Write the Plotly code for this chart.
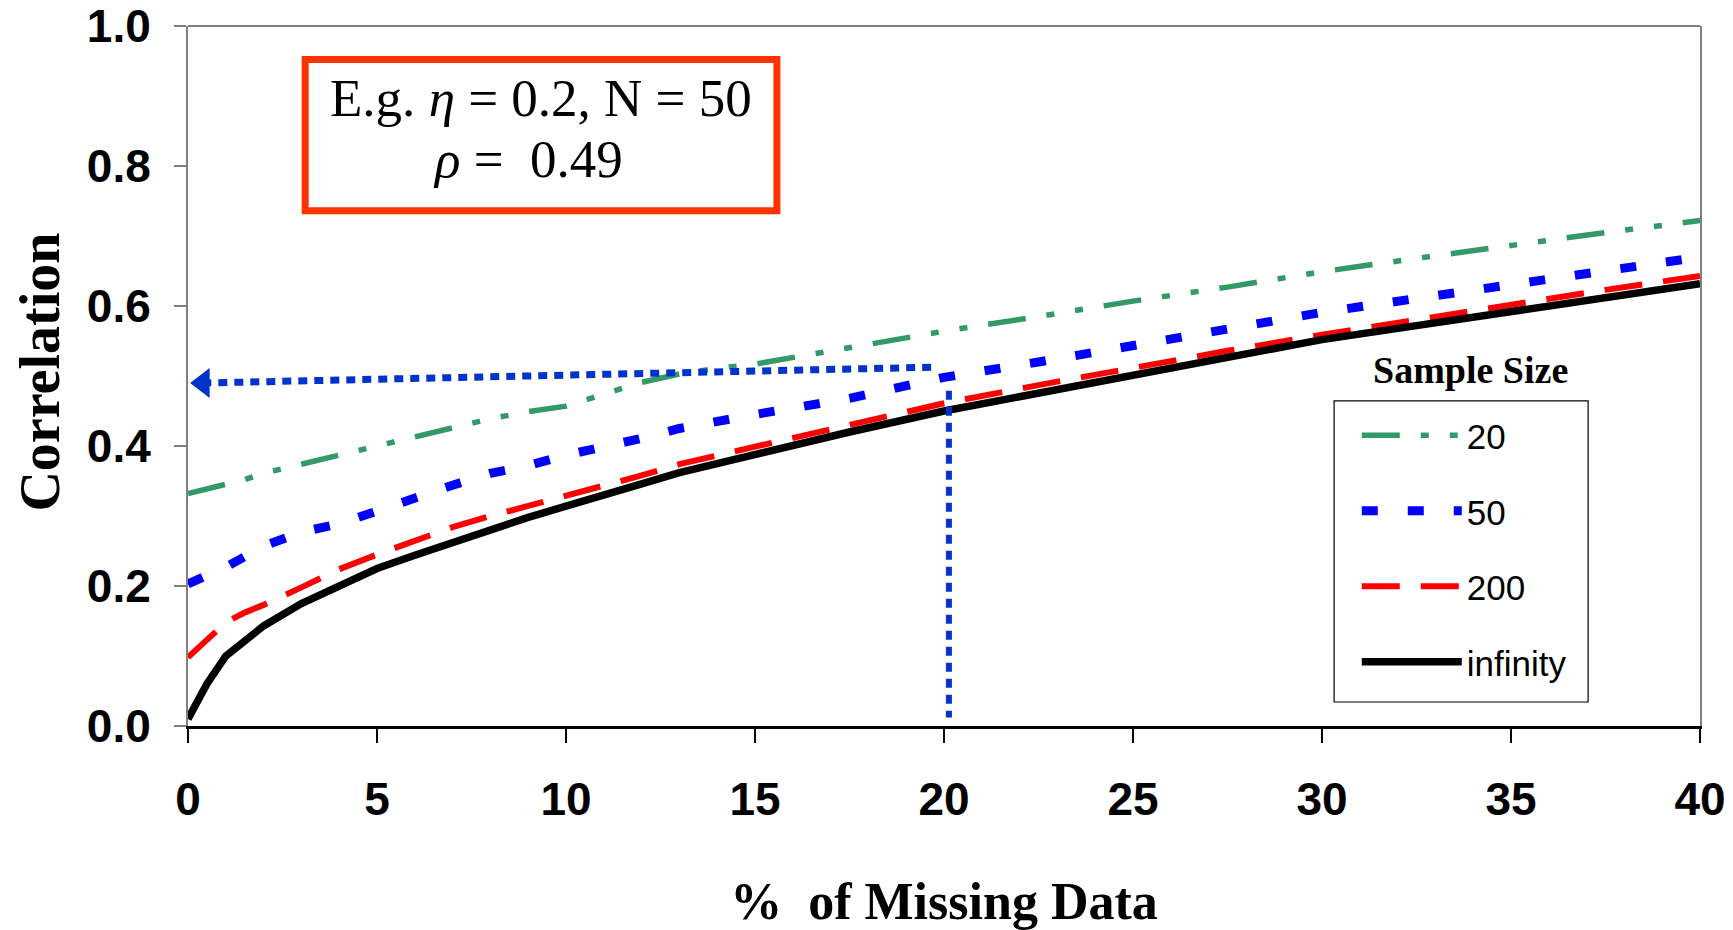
import plotly.graph_objects as go

# ---------------- data ----------------
missing_pct = [0, 0.5, 1, 1.5, 2, 3, 4, 5, 6, 7, 8, 9, 10, 11, 12, 13, 14, 15,
               17.5, 20, 22.5, 25, 27.5, 30, 32.5, 35, 37.5, 40]
corr_n20 = [0.332, 0.338, 0.344, 0.352, 0.361, 0.374, 0.385, 0.399, 0.411, 0.426,
            0.439, 0.449, 0.457, 0.474, 0.491, 0.503, 0.511, 0.517, 0.540, 0.564,
            0.585, 0.607, 0.627, 0.649, 0.668, 0.687, 0.705, 0.722]
corr_n50 = [0.203, 0.214, 0.227, 0.242, 0.257, 0.277, 0.289, 0.307, 0.327, 0.344,
            0.361, 0.372, 0.387, 0.398, 0.411, 0.425, 0.436, 0.445, 0.468, 0.498,
            0.520, 0.542, 0.567, 0.591, 0.611, 0.630, 0.651, 0.670]
corr_n200 = [0.098, 0.122, 0.148, 0.162, 0.173, 0.198, 0.224, 0.245, 0.265, 0.284,
             0.300, 0.314, 0.329, 0.342, 0.358, 0.374, 0.387, 0.399, 0.430, 0.461,
             0.487, 0.512, 0.536, 0.559, 0.581, 0.603, 0.623, 0.643]
corr_inf = [0.010, 0.060, 0.100, 0.123, 0.143, 0.175, 0.200, 0.225, 0.244, 0.262,
            0.281, 0.298, 0.314, 0.331, 0.346, 0.362, 0.375, 0.388, 0.420, 0.450,
            0.476, 0.502, 0.527, 0.552, 0.572, 0.592, 0.612, 0.632]
series_names = ["20", "50", "200", "infinity"]

# example read-off (eta = 0.2, N = 50, 20% missing -> rho = 0.49)
example_x = [20.13, 20.13]
example_y = [0.479, 0.012]
arrow_x = [19.66, 0.40]
arrow_y = [0.5125, 0.490]

x_ticks = [0, 5, 10, 15, 20, 25, 30, 35, 40]
y_ticks = [0.0, 0.2, 0.4, 0.6, 0.8, 1.0]

SANS = "Liberation Sans, Arial, sans-serif"
SERIF = "Liberation Serif, Times New Roman, serif"
DOT_BLUE = "#0033CC"

fig = go.Figure()

styles = [
    dict(color="#339966", width=5.5, dash="38px,21px,8px,21px,8px,21px"),
    dict(color="#0000FF", width=9, dash="16px,30px"),
    dict(color="#FF0000", width=6, dash="38px,21px"),
    dict(color="#000000", width=7.5, dash="solid"),
]
for name, ys, st in zip(series_names, [corr_n20, corr_n50, corr_n200, corr_inf], styles):
    fig.add_trace(go.Scatter(x=missing_pct, y=ys, mode="lines", name=name,
                             legendgroup=name, line=st))

# dotted guide lines
fig.add_trace(go.Scatter(x=example_x, y=example_y, mode="lines", showlegend=False,
                         line=dict(color=DOT_BLUE, width=6, dash="9px,7px"),
                         hoverinfo="skip"))
fig.add_trace(go.Scatter(x=arrow_x, y=arrow_y, mode="lines", showlegend=False,
                         line=dict(color=DOT_BLUE, width=7, dash="9px,7px"),
                         hoverinfo="skip"))
fig.add_trace(go.Scatter(x=[arrow_x[-1]], y=[arrow_y[-1]], mode="markers",
                         showlegend=False, cliponaxis=False,
                         marker=dict(symbol="triangle-left", size=26, color=DOT_BLUE,
                                     line=dict(width=0)),
                         hoverinfo="skip"))

fig.update_layout(
    width=1733, height=930,
    paper_bgcolor="white", plot_bgcolor="white",
    margin=dict(l=188, r=33, t=26, b=204, autoexpand=False),
    showlegend=True,
    legend=dict(
        x=0.773, y=0.457, xanchor="left", yanchor="top",
        borderwidth=0, bgcolor="rgba(0,0,0,0)",
        font=dict(family=SANS, size=35, color="black"),
        tracegroupgap=27, traceorder="grouped", itemwidth=100,
    ),
    xaxis=dict(
        range=[0, 40], tickvals=x_ticks, ticktext=[str(v) for v in x_ticks],
        showgrid=False, zeroline=False, automargin=False,
        showline=True, linecolor="#000000", linewidth=3,
        ticks="outside", ticklen=14, tickwidth=1.5, tickcolor="#000000",
        tickfont=dict(family=SANS, size=46, color="black", weight="bold"),
        ticklabelstandoff=17, ticklabeloverflow="allow",
        title=dict(text="%  of Missing Data", standoff=60,
                   font=dict(family=SERIF, size=52, color="black", weight="bold")),
    ),
    yaxis=dict(
        range=[0, 1.0], tickvals=y_ticks, ticktext=["%.1f" % v for v in y_ticks],
        showgrid=False, zeroline=False, automargin=False,
        showline=True, linecolor="#808080", linewidth=2, mirror=True,
        ticks="outside", ticklen=12, tickwidth=1.5, tickcolor="#808080",
        tickfont=dict(family=SANS, size=46, color="black", weight="bold"),
        ticklabelstandoff=14, ticklabeloverflow="allow",
    ),
    shapes=[
        dict(type="line", xref="paper", yref="paper", x0=0, x1=1, y0=1, y1=1,
             line=dict(color="#808080", width=2)),
        dict(type="rect", xref="paper", yref="paper", x0=0.0775, x1=0.3895,
             y0=0.736, y1=0.952, line=dict(color="#FF3300", width=7),
             fillcolor="white", layer="above"),
        # legend frame
        dict(type="rect", xref="paper", yref="paper", x0=0.758, x1=0.926,
             y0=0.0343, y1=0.4646, line=dict(color="#000000", width=1.2),
             fillcolor="rgba(0,0,0,0)", layer="above"),
    ],
    annotations=[
        dict(text="<b>Correlation</b>", xref="paper", yref="paper",
             x=-0.0985, y=0.505, xanchor="center", yanchor="middle",
             textangle=-90, showarrow=False,
             font=dict(family=SERIF, size=56, color="black")),
        dict(text="E.g. <i>η</i> = 0.2, N = 50", xref="paper", yref="paper",
             x=0.2335, y=0.897, xanchor="center", yanchor="middle", showarrow=False,
             font=dict(family=SERIF, size=53, color="black")),
        dict(text="<i>ρ</i> =  0.49", xref="paper", yref="paper",
             x=0.225, y=0.810, xanchor="center", yanchor="middle", showarrow=False,
             font=dict(family=SERIF, size=53, color="black")),
        dict(text="<b>Sample Size</b>", xref="paper", yref="paper",
             x=0.848, y=0.509, xanchor="center", yanchor="middle", showarrow=False,
             font=dict(family=SERIF, size=38, color="black")),
    ],
)

# remove the default 8px page margin so the figure fills the window exactly
fig.write_html("out.html",
               config={"displayModeBar": False},
               post_script="document.body.style.margin='0';"
                           "document.body.style.overflow='hidden';")
